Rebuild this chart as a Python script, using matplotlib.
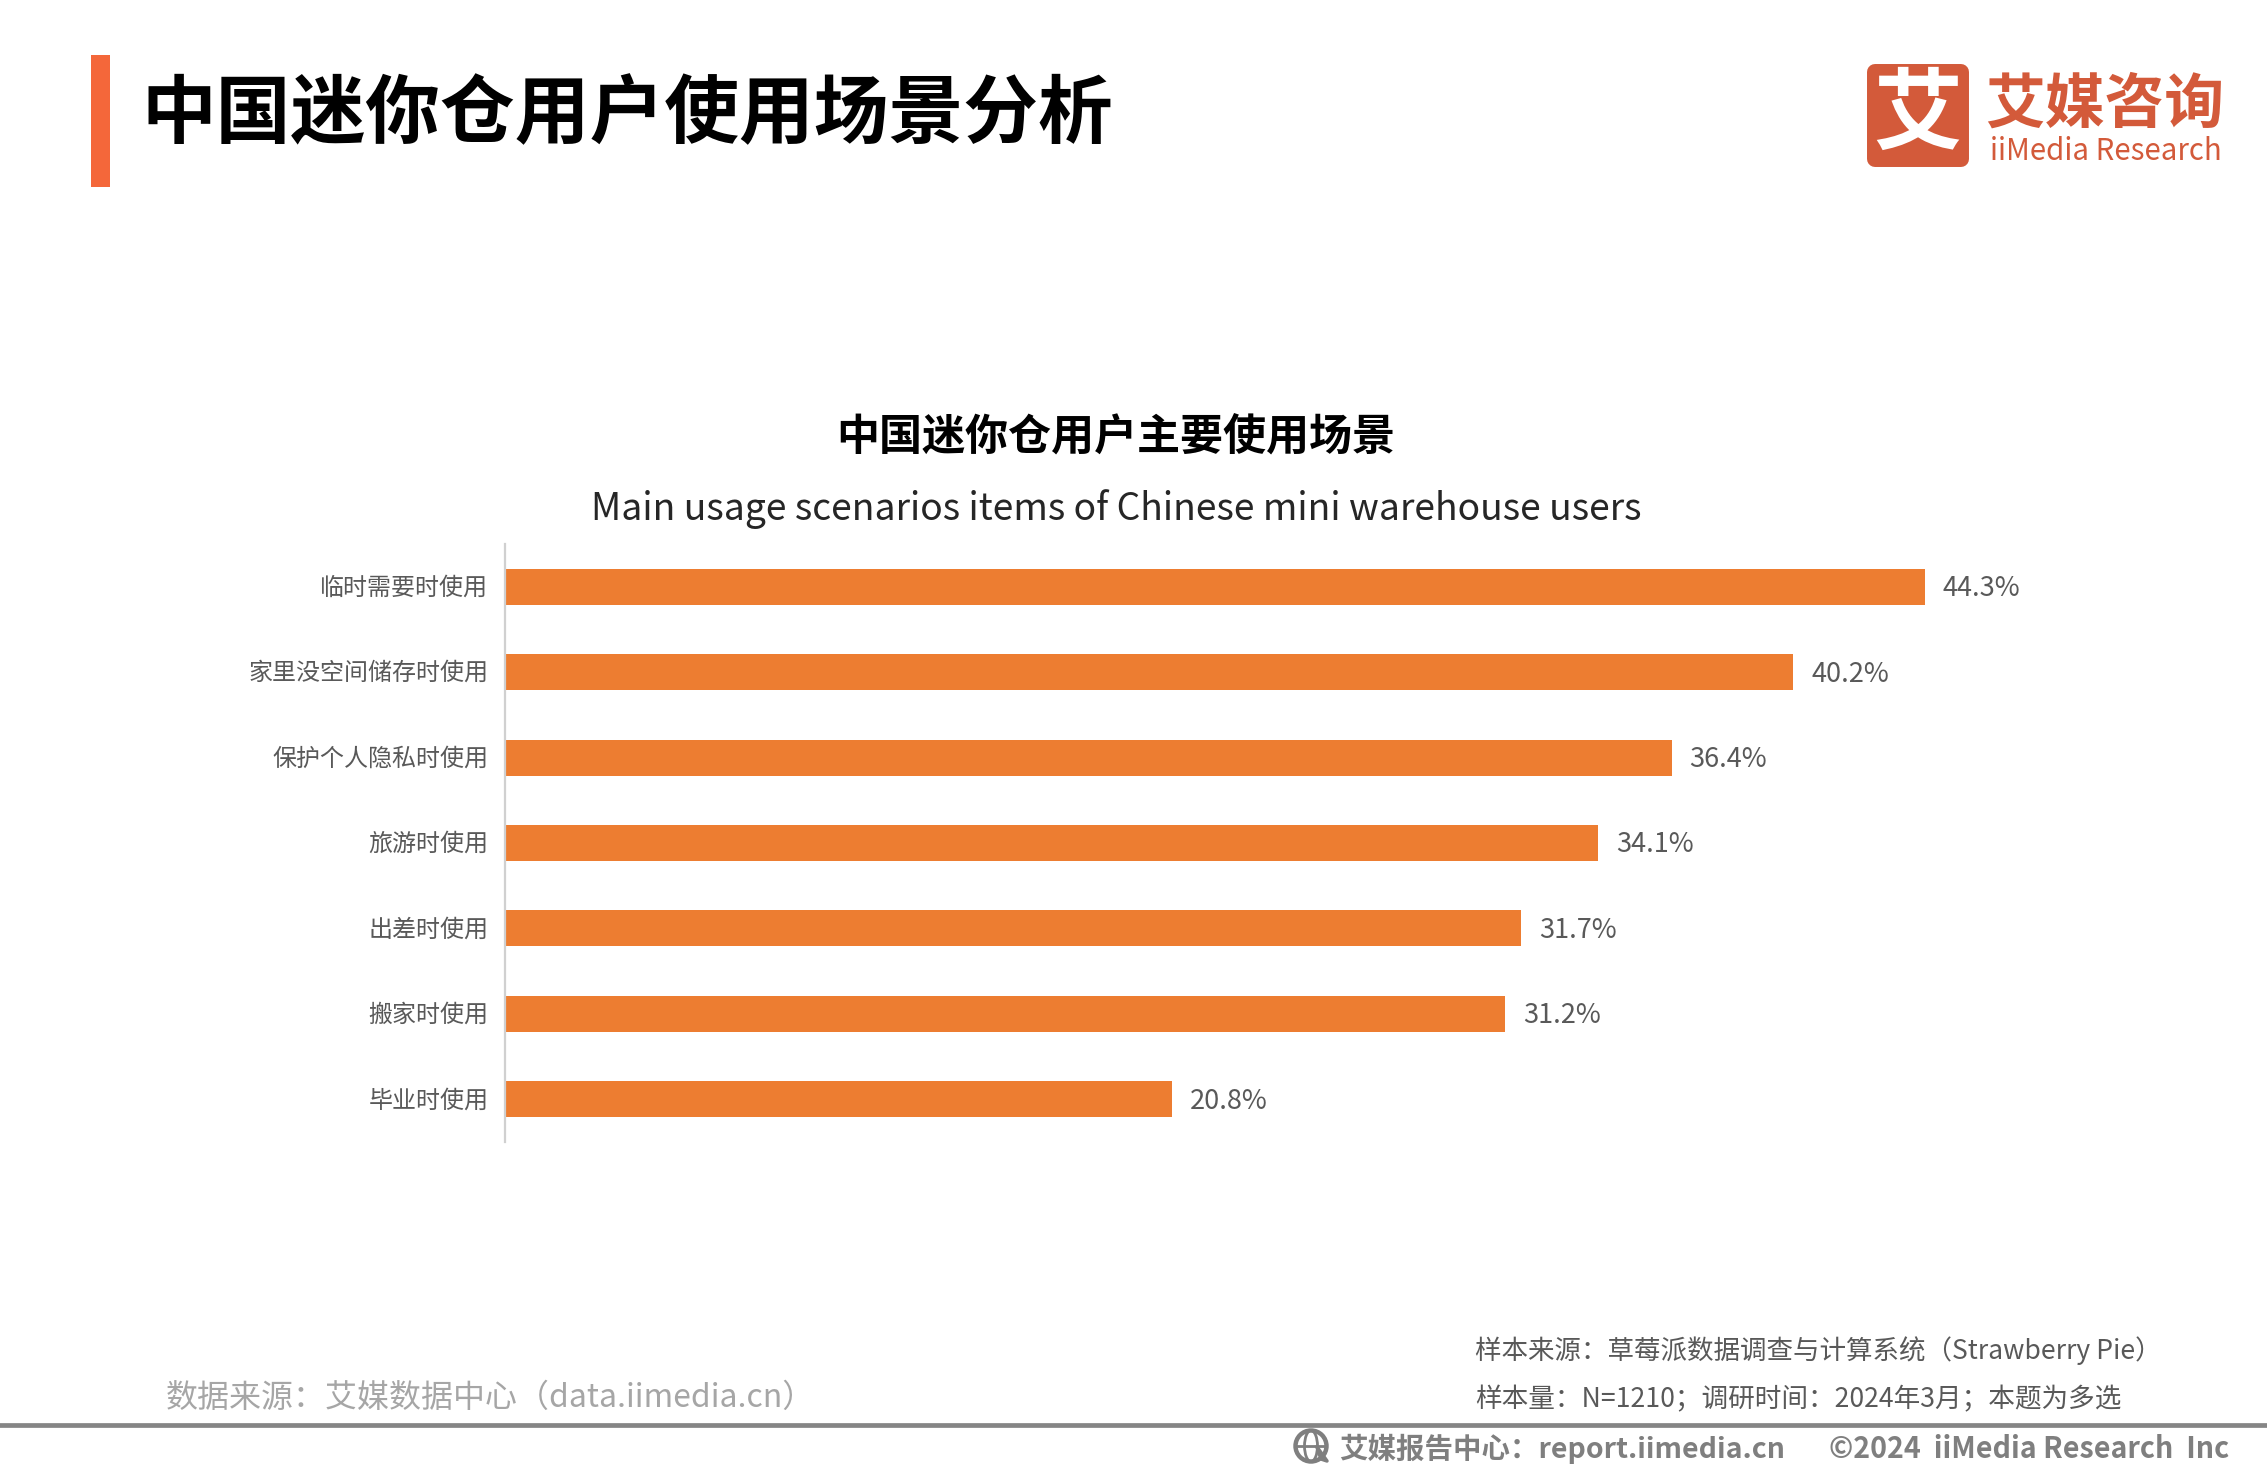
from matplotlib import pyplot
from matplotlib.patches import FancyBboxPatch, Rectangle, Circle, Ellipse
from matplotlib.transforms import Affine2D

W, H = 2267, 1474
CJK = ['Noto Sans CJK SC', 'DejaVu Sans']
pyplot.rcParams['font.family'] = CJK

labels = ['临时需要时使用', '家里没空间储存时使用', '保护个人隐私时使用', '旅游时使用',
          '出差时使用', '搬家时使用', '毕业时使用']
values = [44.3, 40.2, 36.4, 34.1, 31.7, 31.2, 20.8]


def put(fig, x, y, s, size, color='#000000', weight='normal', ha='left', va='center'):
    # x, y are picture pixels from the top left
    return fig.text(x / W, 1 - y / H, s, fontsize=size, color=color,
                    fontweight=weight, ha=ha, va=va)


fig = pyplot.figure(figsize=(W / 100, H / 100), dpi=100, facecolor='white')

# the whole picture as a pixel canvas for the page decoration
bg = fig.add_axes([0, 0, 1, 1])
bg.set_xlim(0, W)
bg.set_ylim(H, 0)
bg.axis('off')
bg.add_patch(Rectangle((91, 55), 19, 132, color='#F4673A', lw=0))
bg.add_patch(FancyBboxPatch((1875, 72), 86, 87, boxstyle='round,pad=0,rounding_size=0',
                            fc='#D35A3A', ec='#D35A3A', lw=11.5, joinstyle='round'))
bg.plot([0, W], [1425, 1425], color='#858585', lw=3.4)
# globe icon of the footer
bg.add_patch(Circle((1311, 1446), 15.5, fc='none', ec='#7f7f7f', lw=3.2))
bg.add_patch(Ellipse((1311, 1446), 13, 31, fc='none', ec='#7f7f7f', lw=2))
bg.plot([1296, 1326], [1446, 1446], color='#7f7f7f', lw=2)
bg.plot([1317, 1327, 1321, 1317], [1447, 1461, 1459, 1447], color='#7f7f7f', lw=2.5)

# the chart
ax = fig.add_axes([505 / W, 1 - 1142 / H, 1595 / W, 598 / H])
ax.barh(range(len(values)), values, height=0.42, color='#ED7D31', left=0)
ax.set_xlim(0, 1595 / 32.05)
ax.set_ylim(6.5, -0.5)
ax.set_yticks(range(len(values)))
ax.set_yticklabels(labels, fontsize=17.3, color='#595959')
ax.tick_params(axis='y', length=0, pad=12)
for t in ax.get_yticklabels():
    t.set_transform(t.get_transform() + Affine2D().translate(0, 2))
ax.xaxis.set_visible(False)
for side in ['top', 'right', 'bottom']:
    ax.spines[side].set_visible(False)
ax.spines['left'].set_color('#D0D0D0')
ax.spines['left'].set_linewidth(1.6)
ax.patch.set_alpha(0)
for i, v in enumerate(values):
    ax.annotate('%.1f%%' % v, (v, i), xytext=(18, -2), textcoords='offset pixels',
                va='center', ha='left', fontsize=19.5, color='#595959')

# titles
put(fig, 141, 115, '中国迷你仓用户使用场景分析', 53.8, weight='bold')
put(fig, 1116, 437, '中国迷你仓用户主要使用场景', 31, weight='bold', ha='center')
put(fig, 1116, 509, 'Main usage scenarios items of Chinese mini warehouse users', 26.8,
    color='#262626', ha='center')

# logo
put(fig, 1918, 116, '艾', 64, color='white', weight='bold', ha='center')
put(fig, 2105, 106, '艾媒咨询', 43, color='#D35A3A', weight='bold', ha='center')
put(fig, 2106, 151, 'iiMedia Research', 21.2, color='#D35A3A', ha='center')

# footer
put(fig, 166, 1398, '数据来源：艾媒数据中心（data.iimedia.cn）', 23, color='#A6A6A6')
put(fig, 1475, 1351, '样本来源：草莓派数据调查与计算系统（Strawberry Pie）', 19.1, color='#595959')
put(fig, 1475, 1400, '样本量：N=1210；调研时间：2024年3月；本题为多选', 19.2, color='#595959')
put(fig, 1339, 1449, '艾媒报告中心：report.iimedia.cn', 20.5, color='#7f7f7f', weight='bold')
put(fig, 1829, 1449, '©2024  iiMedia Research  Inc', 20.6, color='#7f7f7f', weight='bold')

fig.savefig('out.png', dpi=100)
